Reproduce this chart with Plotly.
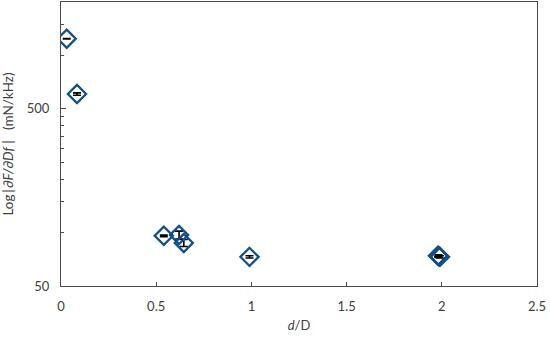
import plotly.graph_objects as go

# ── data ────────────────────────────────────────────────────────────────
d_over_D = [0.03, 0.084, 0.54, 0.62, 0.645, 0.99, 1.98, 1.985, 1.99]
dF_dDf = [1242, 605, 96, 97, 87.5, 73, 74, 73.5, 73]
dF_err = [4, 9, 1, 5, 4, 1, 1, 1, 1]

y_major = [50, 500]
y_minor = [100, 150, 200, 250, 300, 350, 400, 450, 1000, 1500]
x_ticks = [0, 0.5, 1, 1.5, 2, 2.5]
x_ticktext = ["0", "0.5", "1", "1.5", "2", "2.5"]

_FONT = dict(family="Lato, Carlito, 'Liberation Sans', sans-serif", size=13, color="#404040")
_BLUE = "#124F86"
_AXIS = "#4a4a4a"

fig = go.Figure()

fig.add_trace(go.Scatter(
    x=d_over_D, y=dF_dDf,
    mode="markers",
    marker=dict(symbol="diamond-open", size=14, color=_BLUE,
                line=dict(width=2.3, color=_BLUE)),
    error_y=dict(type="data", array=dF_err, visible=True,
                 color="black", thickness=1.6, width=4),
    showlegend=False,
))

fig.update_layout(
    width=550, height=337,
    margin=dict(l=61, r=13, t=2, b=51),
    paper_bgcolor="white", plot_bgcolor="white",
    font=_FONT,
    xaxis=dict(
        range=[0, 2.5],
        tickvals=x_ticks, ticktext=x_ticktext,
        ticks="inside", ticklen=4, tickcolor=_AXIS,
        showgrid=False, zeroline=False,
        showline=True, linecolor=_AXIS, linewidth=1, mirror=True,
        ticklabelstandoff=8,
        title=dict(text="<i>d</i>/D", font=dict(size=13), standoff=8),
    ),
    yaxis=dict(
        type="log",
        range=[1.69897, 3.30103],
        tickvals=y_major, ticktext=["50", "500"],
        ticks="inside", ticklen=5, tickcolor=_AXIS,
        minor=dict(tickmode="array", tickvals=y_minor,
                   ticks="inside", ticklen=3, tickcolor=_AXIS, showgrid=False),
        showgrid=False, zeroline=False,
        showline=True, linecolor=_AXIS, linewidth=1, mirror=True,
        ticklabelstandoff=8,
        title=dict(text="Log\u2009|\u2009<i>∂F/∂Df</i>\u00a0|\u00a0\u00a0\u00a0(mN/kHz)",
                   font=dict(size=13.5), standoff=10),
    ),
)

# page body has a default 8px margin; drop it so the figure sits at 0,0
fig.write_html("out.html", config={"displayModeBar": False},
               post_script="document.body.style.margin='0';")
